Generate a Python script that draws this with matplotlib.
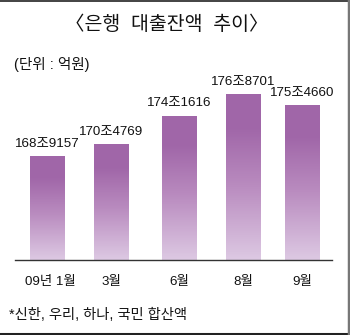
import numpy as np
import matplotlib
matplotlib.use("Agg")
import matplotlib.pyplot as plt
from matplotlib.colors import LinearSegmentedColormap

# Latin digits from Liberation Sans (Helvetica-like), Hangul from Noto CJK
plt.rcParams['font.family'] = ['Liberation Sans', 'Noto Sans CJK KR', 'DejaVu Sans']

# data (unit: 억원)
months = ["09년 1월", "3월", "6월", "8월", "9월"]
balances = [1689157, 1704769, 1741616, 1768701, 1754660]
labels = ["168조9157", "170조4769", "174조1616", "176조8701", "175조4660"]

# layout: bar centres in pixels (uneven spacing like the original)
x_pos = [47.5, 111, 179.5, 243, 302]
bar_w = 35
y_floor = 1557000

W, H = 350, 335
fig = plt.figure(figsize=(W / 100, H / 100), dpi=100)

# axes: x in pixels, bottom edge on the baseline (y=260 px)
ax_bottom, ax_top = 260, 60
ax = fig.add_axes([0, 1 - ax_bottom / H, 1, (ax_bottom - ax_top) / H])
ax.set_xlim(0, W)
ax.set_ylim(y_floor, y_floor + (max(balances) - y_floor) * (ax_bottom - ax_top) / 165)
ax.axis("off")

cmap = LinearSegmentedColormap.from_list(
    "grad", [(0.0, "#ddc9e3"), (0.45, "#b98bbf"), (0.8, "#a066a8"), (1.0, "#a066a8")])
grad = np.linspace(0, 1, 256).reshape(-1, 1)

for x, v, lab in zip(x_pos, balances, labels):
    ext = [x - bar_w / 2, x + bar_w / 2, y_floor, v]
    ax.imshow(grad, extent=ext, origin="lower", aspect="auto", cmap=cmap,
              interpolation="nearest", zorder=2)
    ax.annotate(lab, (x, v), xytext=(0, 5), textcoords="offset points",
                ha="center", va="bottom", fontsize=9.6, color="#111111")

# baseline
ax.plot([15, 332], [y_floor, y_floor], color="#333333", lw=1.0, zorder=4,
        clip_on=False)

# x labels
for x, m in zip(x_pos, months):
    fig.text(x / W, 1 - 282 / H, m, ha="center", va="center",
             fontsize=9.6, color="#111111")
# first label sits slightly right of its bar centre
fig.texts[0].set_x(50 / W)

fig.text(167 / W, 1 - 25 / H, "〈은행  대출잔액  추이〉", ha="center", va="center",
         fontsize=14, color="#111111", fontweight="medium")
fig.text(14 / W, 1 - 65 / H, "(단위 : 억원)", ha="left", va="center",
         fontsize=10.5, color="#111111")
fig.text(9 / W, 1 - 315 / H, "*신한, 우리, 하나, 국민 합산액", ha="left",
         va="center", fontsize=10.3, color="#111111")

# frame around the figure
fig.add_artist(plt.Line2D([0, 1], [1 - 0.5 / H, 1 - 0.5 / H], color="#222222",
                          lw=1.2, transform=fig.transFigure))
fig.add_artist(plt.Line2D([0, 1], [1.5 / H, 1.5 / H], color="#222222",
                          lw=2.2, transform=fig.transFigure))
fig.add_artist(plt.Line2D([1 - 1.5 / W, 1 - 1.5 / W], [0, 1], color="#777777",
                          lw=2.5, transform=fig.transFigure))

fig.savefig("out.png", dpi=100)
